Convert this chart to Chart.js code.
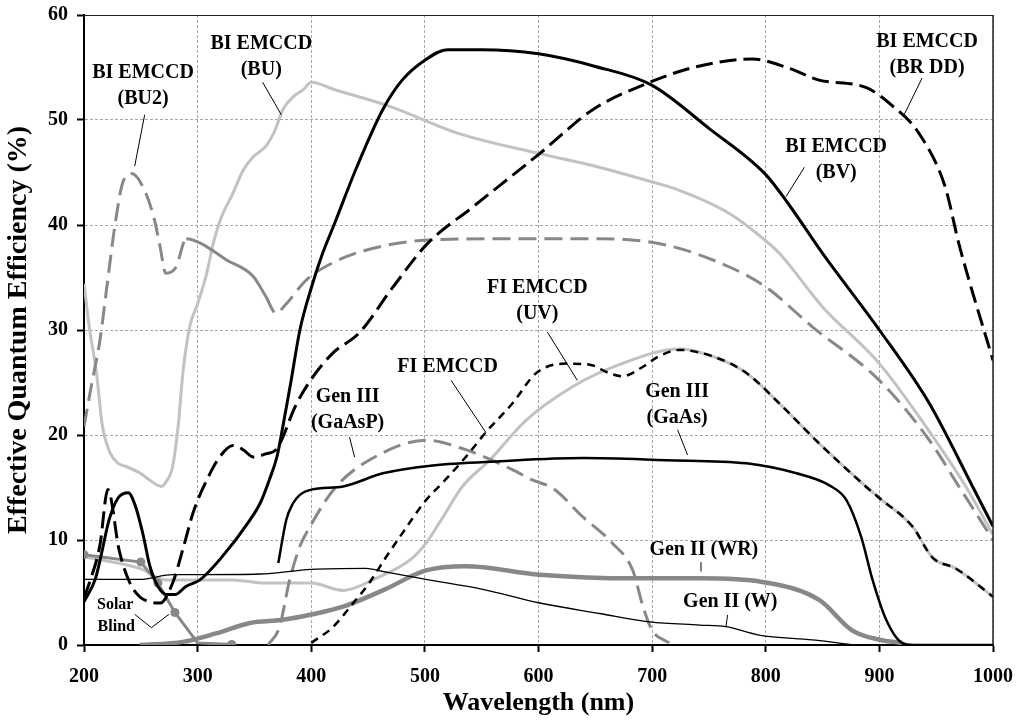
<!DOCTYPE html>
<html>
<head>
<meta charset="utf-8">
<script src="https://cdn.jsdelivr.net/npm/chart.js@4"></script>
<style>
  html, body { margin: 0; padding: 0; background: #fff; }
</style>
</head>
<body>
<canvas id="qeChart" width="1018" height="725"></canvas>
<script>
// Curvas de eficiência quântica (leitura aproximada do gráfico original)
const wlBV   = [200,210,215,222,230,239,245,252,258,265,273,280,290,302,320,346,355,363,370,375,382,390,400,410,420,440,463,480,500,520,550,600,650,700,750,800,820,850,900,944,982,1000];
const qeBV   = [4.1,6.3,8.5,11.9,14,14.5,13.3,10.5,7.5,5.6,4.8,4.8,5.6,6.2,8.2,11.9,13.5,15.7,18,20.8,25,30,34,37.3,40,45.5,51,53.8,55.7,56.7,56.7,56.3,55.1,53.3,49.2,44.8,42,37.3,30,23,15.1,11.3];

const wlBRDD = [200,205,214,221,231,240,249,258,267,278,288,296,308,320,331,340,349,360,369,375,385,398,419,442,472,502,542,601,648,698,740,788,821,847,888,911,935,958,970,1000];
const qeBRDD = [4.5,6,9.5,14.8,9,6,4.6,4.1,4.0,5.9,9.5,12.6,15.7,18,19,18.6,17.9,18.2,18.6,19.8,22.5,25,27.8,29.7,34.1,38.2,41.7,46.8,51,53.6,55.1,55.8,54.9,53.8,53.1,51.4,48.7,43.6,38.2,27.1];

const wlBU   = [200,205,211,216,223,230,237,249,258,268,272,278,283,287,293,300,308,313,320,331,340,349,360,368,375,384,393,400,420,469,530,601,650,700,724,768,800,812,850,900,941,976,1000];
const qeBU   = [34.4,30,25.9,21,18.3,17.3,17,16.4,15.7,15.1,15.5,17,21,25.9,30.3,32.5,35.4,37.9,40.5,43,45.2,46.5,47.5,49,51,52.2,52.9,53.6,52.9,51.3,48.7,46.8,45.6,44.1,43.3,41.1,38.5,37.3,32.2,26.8,20.8,15.1,10.5];

const wlBU2  = [200,207,214,220,227,234,242,252,262,267,272,281,290,302,325,349,360,369,378,396,419,448,507,595,654,712,768,800,841,900,944,970,1000];
const qeBU2  = [20.8,25,29,34,39.8,44,44.9,43.6,40.5,37.9,35.4,36,38.7,38.3,36.7,35.1,33.2,31.6,32.5,34.8,36.4,37.6,38.6,38.7,38.7,38.1,36,34.1,30.3,25.2,19.5,15.1,10];

const wlFI   = [400,419,437,451,466,478,501,516,536,554,577,598,624,645,662,674,692,706,724,753,783,812,847,888,900,929,947,967,1000];
const qeFI   = [0.2,1.7,4,5.9,8.4,10.3,13.8,15.5,17.9,20.3,23,25.9,26.8,26.7,25.9,25.6,26.5,27.5,28.1,27.5,25.9,23,19.2,15.1,14,11.3,8.3,7.3,4.6];

const wlUV   = [200,249,272,302,331,360,400,428,457,487,501,516,533,557,589,630,671,724,753,783,812,847,888,900,929,947,967,1000];
const qeUV   = [8.4,7.3,6.2,6.2,6.2,5.9,5.9,5.2,6.35,8.1,9.7,12.2,15.1,17.6,21.4,24.6,26.7,28.2,27.5,25.9,23,19.2,15.1,14,11.3,8.3,7.3,4.6];

const wlGaAs = [371,378,384,390,400,428,463,507,566,639,712,783,827,856,871,884,894,906,920,930,1000];
const qeGaAs = [7.8,11.9,13.5,14.3,14.8,15.1,16.35,17.1,17.5,17.8,17.6,17.3,16.35,15.2,13.8,10.3,6.2,2.4,0.2,0,0];

const wlGaAsP = [362,372,381,390,399,422,463,501,536,577,595,613,639,665,683,692,700,715];
const qeGaAsP = [0,1.7,6.2,9.4,11.3,15.1,18.3,19.5,18.6,16.7,15.7,14.9,12.2,9.7,7.1,3.65,1.4,0.2];

const wlWR   = [249,287,316,346,375,400,428,463,501,536,601,683,742,797,847,876,900,920];
const qeWR   = [0,0.3,1.1,2.1,2.4,2.9,3.65,5.2,7.1,7.5,6.7,6.35,6.35,6.0,4.3,1.4,0.5,0.2];

const wlW    = [200,249,278,302,355,400,448,463,501,551,601,654,698,742,765,794,841,879];
const qeW    = [6.25,6.25,6.7,6.7,6.76,7.2,7.3,7.0,6.25,5.3,4.0,3.0,2.2,1.9,1.75,0.95,0.48,0];

const wlSolar = [200,250,265,280,300,330];
const qeSolar = [8.6,7.9,5.9,3.1,0.2,0.05];

// rótulos das curvas (posição em nm / %)
const callouts = [
  { lines: ['BI EMCCD', '(BU2)'],   x: 252, y: 54.5, from: [253.4, 50.5], to: [244.6, 45.6] },
  { lines: ['BI EMCCD', '(BU)'],    x: 356, y: 57.3, from: [357.2, 53.6], to: [373.6, 50.5] },
  { lines: ['BI EMCCD', '(BR DD)'], x: 942, y: 57.4, from: [937.6, 54.0], to: [920.9, 50.3] },
  { lines: ['BI EMCCD', '(BV)'],    x: 862, y: 47.4, from: [834.0, 45.5], to: [817.8, 42.7] },
  { lines: ['FI EMCCD', '(UV)'],    x: 599, y: 34.0, from: [607.8, 29.8], to: [634.2, 25.2] },
  { lines: ['FI EMCCD'],            x: 520, y: 26.5, from: [523.1, 25.2], to: [553.9, 20.2] },
  { lines: ['Gen III', '(GaAsP)'],  x: 432, y: 23.6, from: [433.7, 19.8], to: [438.1, 17.9] },
  { lines: ['Gen III', '(GaAs)'],   x: 722, y: 24.1, from: [722.4, 20.5], to: [731.2, 18.1] },
  { lines: ['Gen II (WR)'],         x: 745.5, y: 9.05, from: [743, 7.9], to: [743, 7.0] },
  { lines: ['Gen II (W)'],          x: 768.8, y: 4.1, from: [766.4, 2.86], to: [765, 1.74] }
];
const solarLabel = { lines: ['Solar', 'Blind'], x: 227.5, y: 3.8, vee: [[244.6, 2.92], [259.3, 1.65], [274.8, 2.92]] };

const SERIF = '"Liberation Serif", "Times New Roman", serif';
const lightGray = '#c2c2c2';
const midGray = '#888888';

function pts(xs, ys) {
  return xs.map((v, i) => ({ x: v, y: ys[i] }));
}

const calloutPlugin = {
  id: 'callouts',
  afterDatasetsDraw(chart) {
    const { ctx, chartArea, scales: { x, y } } = chart;
    ctx.save();
    // moldura superior e direita
    ctx.strokeStyle = '#222';
    ctx.lineWidth = 1;
    ctx.beginPath();
    ctx.moveTo(chartArea.left, chartArea.top + 0.5);
    ctx.lineTo(chartArea.right, chartArea.top + 0.5);
    ctx.stroke();
    ctx.lineWidth = 1.5;
    ctx.beginPath();
    ctx.moveTo(chartArea.right, chartArea.top);
    ctx.lineTo(chartArea.right, chartArea.bottom);
    ctx.stroke();

    ctx.fillStyle = '#000';
    ctx.strokeStyle = '#000';
    ctx.lineWidth = 1;
    ctx.textAlign = 'center';
    ctx.textBaseline = 'middle';
    ctx.font = 'bold 20px ' + SERIF;
    callouts.forEach(c => {
      const px = x.getPixelForValue(c.x);
      const py = y.getPixelForValue(c.y);
      c.lines.forEach((t, i) => ctx.fillText(t, px, py + i * 26));
      ctx.beginPath();
      ctx.moveTo(x.getPixelForValue(c.from[0]), y.getPixelForValue(c.from[1]));
      ctx.lineTo(x.getPixelForValue(c.to[0]), y.getPixelForValue(c.to[1]));
      ctx.stroke();
    });

    ctx.font = 'bold 16px ' + SERIF;
    const sx = x.getPixelForValue(solarLabel.x);
    const sy = y.getPixelForValue(solarLabel.y);
    solarLabel.lines.forEach((t, i) => ctx.fillText(t, sx + i, sy + i * 21.5));
    ctx.beginPath();
    solarLabel.vee.forEach((p, i) => {
      const fx = x.getPixelForValue(p[0]), fy = y.getPixelForValue(p[1]);
      if (i === 0) ctx.moveTo(fx, fy); else ctx.lineTo(fx, fy);
    });
    ctx.stroke();
    ctx.restore();
  }
};

const ctx = document.getElementById('qeChart').getContext('2d');
const qeChart = new Chart(ctx, {
  type: 'line',
  data: {
    datasets: [
      { label: 'FI EMCCD', data: pts(wlFI, qeFI), borderColor: '#000', borderWidth: 2.5, borderDash: [8, 6] },
      { label: 'BI EMCCD (BV)', data: pts(wlBV, qeBV), borderColor: '#000', borderWidth: 3 },
      { label: 'BI EMCCD (BR DD)', data: pts(wlBRDD, qeBRDD), borderColor: '#000', borderWidth: 3, borderDash: [17, 7] },
      { label: 'Gen III (GaAs)', data: pts(wlGaAs, qeGaAs), borderColor: '#000', borderWidth: 2.5 },
      { label: 'Gen II (W)', data: pts(wlW, qeW), borderColor: '#000', borderWidth: 1.3 },
      { label: 'Solar Blind', data: pts(wlSolar, qeSolar), borderColor: midGray, backgroundColor: midGray,
        borderWidth: 3, tension: 0, cubicInterpolationMode: 'default',
        pointRadius: [4.5, 4.5, 4.5, 4.5, 0, 4.5], pointBorderWidth: 0 },
      { label: 'Gen II (WR)', data: pts(wlWR, qeWR), borderColor: midGray, borderWidth: 4.5 },
      { label: 'Gen III (GaAsP)', data: pts(wlGaAsP, qeGaAsP), borderColor: midGray, borderWidth: 3, borderDash: [18, 8] },
      { label: 'BI EMCCD (BU2)', data: pts(wlBU2, qeBU2), borderColor: midGray, borderWidth: 3, borderDash: [18, 8],
        segment: { borderDash: s => (s.p0.parsed.x >= 290 && s.p1.parsed.x <= 360) ? [] : undefined } },
      { label: 'BI EMCCD (BU)', data: pts(wlBU, qeBU), borderColor: lightGray, borderWidth: 3 },
      { label: 'FI EMCCD (UV)', data: pts(wlUV, qeUV), borderColor: lightGray, borderWidth: 3 }
    ]
  },
  options: {
    responsive: false,
    animation: false,
    devicePixelRatio: 1,
    layout: { padding: { left: 0, right: 25, top: 15, bottom: 0 } },
    elements: {
      line: { cubicInterpolationMode: 'monotone', fill: false },
      point: { radius: 0 }
    },
    plugins: {
      legend: { display: false },
      tooltip: { enabled: false }
    },
    scales: {
      x: {
        type: 'linear',
        min: 200,
        max: 1000,
        afterFit: s => { s.height = 80; s.paddingLeft = 0; s.paddingRight = 0; },
        ticks: {
          stepSize: 100,
          padding: 13,
          color: '#000',
          font: { family: SERIF, weight: 'bold', size: 20 },
          callback: v => String(v)
        },
        grid: { color: '#a8a8a8', lineWidth: 1, tickLength: 7, tickColor: '#000', tickWidth: 2 },
        border: { color: '#000', width: 2, dash: [3, 2] },
        title: {
          display: true,
          text: 'Wavelength (nm)',
          color: '#000',
          font: { family: SERIF, weight: 'bold', size: 26 },
          padding: { top: 0, bottom: 6 }
        }
      },
      y: {
        min: 0,
        max: 60,
        afterFit: s => { s.width = 84; s.paddingTop = 0; s.paddingBottom = 0; },
        ticks: {
          stepSize: 10,
          padding: 9,
          color: '#000',
          font: { family: SERIF, weight: 'bold', size: 20 }
        },
        grid: { color: '#a8a8a8', lineWidth: 1, tickLength: 7, tickColor: '#000', tickWidth: 2 },
        border: { color: '#000', width: 2, dash: [3, 2] },
        title: {
          display: true,
          text: 'Effective Quantum Efficiency (%)',
          color: '#000',
          font: { family: SERIF, weight: 'bold', size: 28 },
          padding: { top: 2, bottom: 0 }
        }
      }
    }
  },
  plugins: [calloutPlugin]
});
</script>
</body>
</html>
